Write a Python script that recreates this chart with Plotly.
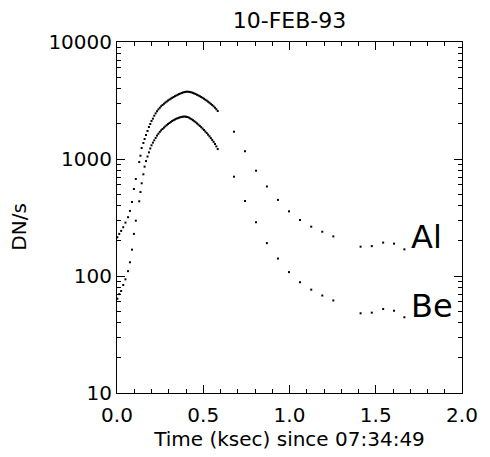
import numpy as np
import plotly.graph_objects as go

# Time since 07:34:49 (ksec)
time_ksec = [
    0.002, 0.013, 0.024, 0.036, 0.049, 0.064, 0.075, 0.087, 0.098, 0.109,
    0.129, 0.136, 0.143, 0.153, 0.160, 0.168, 0.177, 0.185, 0.193, 0.200,
    0.208, 0.216, 0.224, 0.232, 0.240, 0.248, 0.256, 0.264, 0.272, 0.280,
    0.288, 0.296, 0.304, 0.312, 0.320, 0.328, 0.336, 0.344, 0.352, 0.360,
    0.368, 0.376, 0.384, 0.392, 0.400, 0.408, 0.416, 0.424, 0.432, 0.440,
    0.448, 0.456, 0.464, 0.472, 0.480, 0.488, 0.496, 0.504, 0.512, 0.520,
    0.528, 0.536, 0.544, 0.552, 0.560, 0.568, 0.576, 0.584,
    0.678, 0.742, 0.806, 0.869, 0.933, 0.997, 1.061, 1.126, 1.190, 1.254,
    1.412, 1.477, 1.543, 1.606, 1.666,
]

# Al filter count rate (DN/s)
al_dns = [
    214, 229, 243, 261, 286, 318, 360, 429, 554, 675,
    942, 1067, 1242, 1371, 1483, 1603, 1735, 1878, 1991, 2113,
    2213, 2344, 2455, 2559, 2655, 2742, 2825, 2897, 2965, 3034,
    3097, 3162, 3221, 3281, 3334, 3388, 3443, 3491, 3540, 3589,
    3631, 3673, 3707, 3733, 3750, 3758, 3750, 3733, 3707, 3673,
    3631, 3589, 3540, 3491, 3443, 3388, 3334, 3273, 3214, 3155,
    3090, 3027, 2958, 2891, 2818, 2742, 2661, 2570,
    1711, 1164, 794, 582, 447, 357, 301, 264, 239, 218,
    178, 180, 193, 189, 169,
]

# Be filter count rate (DN/s)
be_dns = [
    64, 70, 74.5, 83.8, 93.7, 110, 131, 168, 229, 297,
    435, 522, 620, 740, 860, 960, 1050, 1140, 1230, 1310,
    1380, 1445, 1515, 1585, 1645, 1706, 1758, 1807, 1854, 1901,
    1945, 1991, 2032, 2075, 2113, 2148, 2178, 2208, 2234, 2254,
    2275, 2291, 2301, 2307, 2301, 2286, 2259, 2223, 2188, 2148,
    2104, 2061, 2014, 1968, 1919, 1871, 1820, 1770, 1718, 1667,
    1614, 1563, 1510, 1455, 1400, 1343, 1282, 1216,
    706, 437, 288, 191, 141, 108, 88.5, 76.4, 68.1, 61.8,
    48.0, 48.6, 52.2, 50.5, 44.4,
]

series_names = ["Al", "Be"]
label_pos_t = [1.69, 1.69]
label_pos_v = [215, 55.5]

x_tick_vals = [0.0, 0.5, 1.0, 1.5, 2.0]
x_tick_text = ["0.0", "0.5", "1.0", "1.5", "2.0"]
y_tick_vals = [10, 100, 1000, 10000]
y_tick_text = ["10", "100", "1000", "10000"]
y_minor_vals = [m * 10 ** k for k in (1, 2, 3) for m in range(2, 10)]

FONT = "DejaVu Sans"

fig = go.Figure()
for vals in (al_dns, be_dns):
    fig.add_trace(go.Scatter(
        x=time_ksec, y=vals, mode="markers",
        marker=dict(symbol="square", size=2, color="black", line=dict(width=0)),
        showlegend=False, hoverinfo="skip",
    ))

for name, t, v in zip(series_names, label_pos_t, label_pos_v):
    fig.add_annotation(
        x=t, y=np.log10(v), xref="x", yref="y", text=name, showarrow=False,
        xanchor="left", yanchor="middle",
        font=dict(family=FONT, size=32, color="black"),
    )

fig.add_annotation(
    x=-0.283, y=0.475, xref="paper", yref="paper", text="DN/s", showarrow=False,
    textangle=-90, xanchor="center", yanchor="middle",
    font=dict(family=FONT, size=20, color="black"),
)

fig.update_layout(
    width=490, height=457,
    margin=dict(l=117, r=20, t=42, b=64),
    paper_bgcolor="white", plot_bgcolor="white",
    font=dict(family=FONT, size=20, color="black"),
    title=dict(text="10-FEB-93", x=0.5, xref="paper", y=1 - 20 / 457,
               yanchor="middle", xanchor="center",
               font=dict(family=FONT, size=22, color="black")),
)

fig.update_xaxes(
    range=[0, 2], tickmode="array", tickvals=x_tick_vals, ticktext=x_tick_text,
    ticks="inside", ticklen=8, tickwidth=1, tickcolor="black", ticklabelstandoff=4,
    minor=dict(dtick=0.1, tick0=0, ticks="inside", ticklen=4, tickcolor="black", showgrid=False),
    showline=True, linecolor="black", linewidth=1, mirror="allticks",
    showgrid=False, zeroline=False,
    title=dict(text="Time (ksec) since 07:34:49", standoff=0,
               font=dict(family=FONT, size=20, color="black")),
)

fig.update_yaxes(
    type="log", range=[1, 4], tickmode="array", tickvals=y_tick_vals, ticktext=y_tick_text,
    ticks="inside", ticklen=8, tickwidth=1, tickcolor="black",
    minor=dict(tickmode="array", tickvals=y_minor_vals, ticks="inside", ticklen=4,
               tickcolor="black", showgrid=False),
    showline=True, linecolor="black", linewidth=1, mirror="allticks",
    showgrid=False, zeroline=False,
)

fig.write_html("out.html")
